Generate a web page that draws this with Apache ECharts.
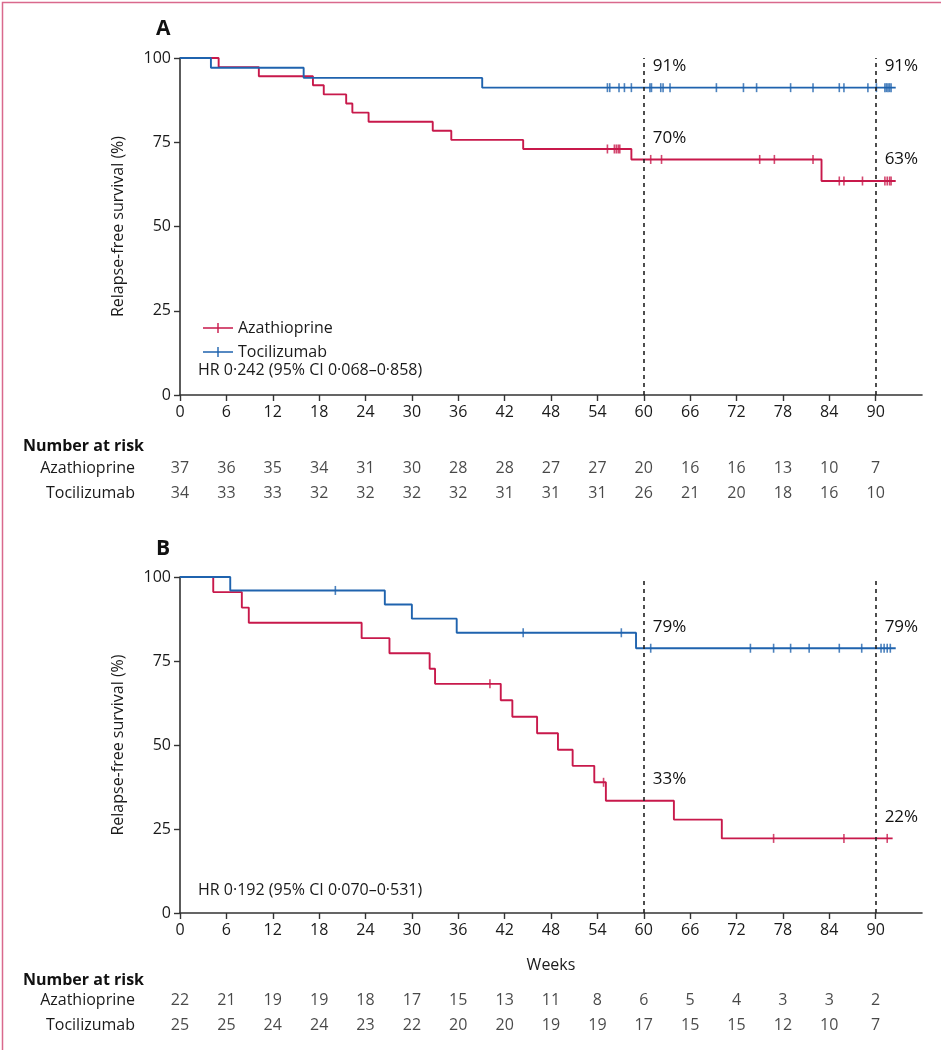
<!DOCTYPE html>
<html>
<head>
<meta charset="utf-8">
<title>Relapse-free survival</title>
<script src="https://cdn.jsdelivr.net/npm/echarts@6/dist/echarts.min.js"></script>
<style>
  html, body { margin: 0; padding: 0; background: #fff; }
  #chart { width: 941px; height: 1050px; }
</style>
</head>
<body>
<div id="chart"></div>
<script>
// weeks shown on the x axis and in the number-at-risk rows
const weekTicks = [0, 6, 12, 18, 24, 30, 36, 42, 48, 54, 60, 66, 72, 78, 84, 90]

// panel A: Kaplan-Meier steps [week, survival %]
const azaStepsA = [[0, 100], [5, 97.3], [10.2, 94.6], [17.2, 91.9], [18.6, 89.2], [21.5, 86.5], [22.3, 83.8],
  [24.4, 81.1], [32.7, 78.4], [35.1, 75.7], [44.4, 73.0], [58.4, 69.9], [83.0, 63.5], [92.6, 63.5]]
const tocStepsA = [[0, 100], [4, 97.1], [16, 94.1], [39.1, 91.2], [92.6, 91.2]]
const azaCensorA = [[55.3, 73.0], [56.2, 73.0], [56.45, 73.0], [56.7, 73.0], [56.9, 73.0],
  [60.9, 69.9], [62.3, 69.9], [75.0, 69.9], [76.9, 69.9], [81.9, 69.9],
  [85.3, 63.5], [85.9, 63.5], [88.3, 63.5], [91.2, 63.5], [91.5, 63.5], [91.8, 63.5], [92.0, 63.5]]
const tocCensorA = [[55.3, 91.2], [55.6, 91.2], [56.8, 91.2], [57.5, 91.2], [58.4, 91.2], [60.8, 91.2],
  [61.0, 91.2], [62.2, 91.2], [62.5, 91.2], [63.4, 91.2], [69.4, 91.2], [72.9, 91.2], [74.6, 91.2],
  [79.0, 91.2], [81.9, 91.2], [85.3, 91.2], [85.9, 91.2], [89.0, 91.2], [90.1, 91.2], [91.2, 91.2],
  [91.4, 91.2], [91.6, 91.2], [91.8, 91.2], [92.0, 91.2]]
const pctLabelsA = [[60, 91.2, '91%'], [90, 91.2, '91%'], [60, 69.9, '70%'], [90, 63.5, '63%']]
const azaRiskA = [37, 36, 35, 34, 31, 30, 28, 28, 27, 27, 20, 16, 16, 13, 10, 7]
const tocRiskA = [34, 33, 33, 32, 32, 32, 32, 31, 31, 31, 26, 21, 20, 18, 16, 10]

// panel B
const azaStepsB = [[0, 100], [4.3, 95.5], [8.0, 90.9], [8.9, 86.4], [23.5, 81.8], [27.1, 77.3], [32.3, 72.7],
  [33.0, 68.2], [41.5, 63.3], [43.0, 58.4], [46.2, 53.5], [48.9, 48.6], [50.8, 43.8], [53.6, 38.9],
  [55.1, 33.4], [63.9, 27.8], [70.1, 22.2], [92.2, 22.2]]
const tocStepsB = [[0, 100], [6.5, 96], [26.5, 91.8], [30, 87.6], [35.8, 83.4], [59, 78.8], [92.6, 78.8]]
const azaCensorB = [[40.1, 68.2], [54.8, 38.9], [76.8, 22.2], [85.9, 22.2], [91.5, 22.2]]
const tocCensorB = [[20.1, 96], [44.4, 83.4], [57.1, 83.4], [60.9, 78.8], [73.8, 78.8], [76.8, 78.8],
  [79.0, 78.8], [81.4, 78.8], [85.3, 78.8], [88.2, 78.8], [90.7, 78.8], [91.1, 78.8], [91.5, 78.8], [91.9, 78.8]]
const pctLabelsB = [[60, 78.8, '79%'], [90, 78.8, '79%'], [60, 33.4, '33%'], [90, 22.2, '22%']]
const azaRiskB = [22, 21, 19, 19, 18, 17, 15, 13, 11, 8, 6, 5, 4, 3, 3, 2]
const tocRiskB = [25, 25, 24, 24, 23, 22, 20, 20, 19, 19, 17, 15, 15, 12, 10, 7]

const RED = '#c8194b'
const BLUE = '#1f63ae'
const INK = '#1a1a1a'
const FONT = 'Open Sans'

const chart = echarts.init(document.getElementById('chart'))

function survAxisX(grid, name) {
  return {
    type: 'value', gridIndex: grid, min: 0, max: 96, interval: 6,
    name: name, nameLocation: 'middle', nameGap: 44,
    nameTextStyle: { color: INK, fontSize: 16, fontFamily: FONT },
    axisLine: { lineStyle: { color: '#333', width: 1.6 } },
    axisTick: { length: 6, lineStyle: { color: '#333', width: 1.4 }, customValues: weekTicks },
    axisLabel: { color: INK, fontSize: 16, fontFamily: FONT, margin: 9, customValues: weekTicks,
      formatter: v => (v > 90 ? '' : v) },
    splitLine: { show: false }
  }
}
function survAxisY(grid) {
  return {
    type: 'value', gridIndex: grid, min: 0, max: 100, interval: 25,
    name: 'Relapse-free survival (%)', nameLocation: 'middle', nameGap: 54,
    nameTextStyle: { color: INK, fontSize: 16, fontFamily: FONT },
    axisLine: { show: true, lineStyle: { color: '#333', width: 1.6 } },
    axisTick: { show: true, length: 6, lineStyle: { color: '#333', width: 1.4 } },
    axisLabel: { color: INK, fontSize: 16, fontFamily: FONT, margin: 9 },
    splitLine: { show: false }
  }
}
function riskAxisX(grid) {
  return { type: 'value', gridIndex: grid, min: 0, max: 96, show: false }
}
function riskAxisY(grid) {
  return {
    type: 'category', gridIndex: grid, inverse: true, data: ['Azathioprine', 'Tocilizumab'],
    axisLine: { show: false }, axisTick: { show: false },
    axisLabel: { color: INK, fontSize: 16, fontFamily: FONT, margin: 45 }
  }
}
function steps(name, data, color, ax) {
  return {
    name: name, type: 'line', step: 'end', xAxisIndex: ax, yAxisIndex: ax, data: data,
    symbol: 'none', lineStyle: { color: color, width: 1.9 }, itemStyle: { color: color },
    silent: true, z: 3
  }
}
function censors(data, color, ax) {
  return {
    type: 'scatter', xAxisIndex: ax, yAxisIndex: ax, data: data, symbol: 'rect',
    symbolSize: [1.6, 9], itemStyle: { color: color }, silent: true, z: 4
  }
}
function refLines(ax) {
  return {
    type: 'line', xAxisIndex: ax, yAxisIndex: ax, data: [], silent: true,
    markLine: {
      symbol: 'none', label: { show: false },
      lineStyle: { color: '#222', type: [4, 4], width: 1.6 },
      data: [{ xAxis: 60 }, { xAxis: 90 }]
    }
  }
}
function pctLabels(data, ax) {
  return {
    type: 'scatter', xAxisIndex: ax, yAxisIndex: ax, data: data, symbolSize: 0, silent: true, z: 5,
    label: { show: true, position: [9, -30], formatter: p => p.value[2], opacity: 1,
      color: '#111', fontSize: 17, fontFamily: FONT, textBorderWidth: 0 }
  }
}
function riskRows(aza, toc, ax) {
  const rows = []
  weekTicks.forEach((w, i) => {
    rows.push([w, 'Azathioprine', aza[i]])
    rows.push([w, 'Tocilizumab', toc[i]])
  })
  return {
    type: 'scatter', xAxisIndex: ax, yAxisIndex: ax, data: rows, symbolSize: 1,
    itemStyle: { color: 'rgba(0,0,0,0)' }, silent: true,
    label: { show: true, position: 'inside', formatter: p => p.value[2],
      color: INK, fontSize: 16, fontFamily: FONT }
  }
}

chart.setOption({
  animation: false,
  backgroundColor: '#fff',
  textStyle: { fontFamily: FONT },
  title: [
    { text: 'A', left: 151, top: 14, textStyle: { fontSize: 21, fontWeight: 'bold', color: '#111' } },
    { text: 'Number at risk', left: 18, top: 433, textStyle: { fontSize: 16, fontWeight: 'bold', color: '#111' } },
    { text: 'B', left: 151, top: 534, textStyle: { fontSize: 21, fontWeight: 'bold', color: '#111' } },
    { text: 'Number at risk', left: 18, top: 967, textStyle: { fontSize: 16, fontWeight: 'bold', color: '#111' } }
  ],
  legend: {
    data: ['Azathioprine', 'Tocilizumab'], orient: 'vertical', left: 198, top: 315,
    itemWidth: 30, itemHeight: 10, itemGap: 8,
    icon: 'path://M0,4.3 H30 V5.7 H0 Z M14.3,0 H15.7 V10 H14.3 Z',
    textStyle: { color: INK, fontSize: 16, fontFamily: FONT, lineHeight: 16 }
  },
  grid: [
    { left: 180, right: 19, top: 58, height: 337 },
    { left: 180, right: 19, top: 456, height: 50 },
    { left: 180, right: 19, top: 577, height: 336 },
    { left: 180, right: 19, top: 988, height: 50 }
  ],
  xAxis: [survAxisX(0, ''), riskAxisX(1), survAxisX(2, 'Weeks'), riskAxisX(3)],
  yAxis: [survAxisY(0), riskAxisY(1), survAxisY(2), riskAxisY(3)],
  graphic: [
    { type: 'text', left: 198, top: 362, style: { text: 'HR 0·242 (95% CI 0·068–0·858)', fill: INK, font: '16px "Open Sans"' } },
    { type: 'text', left: 198, top: 882, style: { text: 'HR 0·192 (95% CI 0·070–0·531)', fill: INK, font: '16px "Open Sans"' } },
    { type: 'rect', left: 0, top: 0, shape: { width: 940, height: 1049 }, style: { fill: 'none', stroke: '#d9698d', lineWidth: 1.5 }, silent: true }
  ],
  series: [
    refLines(0),
    steps('Azathioprine', azaStepsA, RED, 0),
    steps('Tocilizumab', tocStepsA, BLUE, 0),
    censors(azaCensorA, RED, 0),
    censors(tocCensorA, BLUE, 0),
    pctLabels(pctLabelsA, 0),
    riskRows(azaRiskA, tocRiskA, 1),
    refLines(2),
    steps('Azathioprine B', azaStepsB, RED, 2),
    steps('Tocilizumab B', tocStepsB, BLUE, 2),
    censors(azaCensorB, RED, 2),
    censors(tocCensorB, BLUE, 2),
    pctLabels(pctLabelsB, 2),
    riskRows(azaRiskB, tocRiskB, 3)
  ]
})
</script>
</body>
</html>
